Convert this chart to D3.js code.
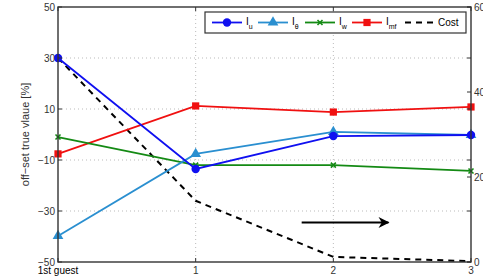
<!DOCTYPE html>
<html>
<head>
<meta charset="utf-8">
<script src="https://cdn.jsdelivr.net/npm/d3@7"></script>
<style>
  body { margin: 0; background: #fff; }
  text { font-family: "Liberation Sans", Arial, sans-serif; }
</style>
</head>
<body>
<div id="chart"></div>
<script>
// data
const steps = [0, 1, 2, 3];
const stepLabels = ["1st guest", "1", "2", "3"];
const Iu = [30, -13.5, -0.6, -0.2];
const Itheta = [-39.8, -7.6, 1.0, -0.2];
const Iw = [-1, -12, -12, -14.3];
const Imf = [-7.6, 11.2, 8.8, 10.8];
const cost = [48, 14.4, 1.2, 0.2];
const leftTicks = [-50, -30, -10, 10, 30, 50];
const rightTicks = [0, 20, 40, 60];
const arrowX = [1.77, 2.4];
const arrowY = -34.5;

const width = 483, height = 278;
const margin = {top: 7, right: 12, bottom: 16, left: 58};
const w = width - margin.left - margin.right;
const h = height - margin.top - margin.bottom;

const svg = d3.select("#chart")
  .append("svg")
  .attr("width", width)
  .attr("height", height);

const g = svg.append("g")
  .attr("transform", `translate(${margin.left},${margin.top})`);

const x = d3.scaleLinear().domain([0, 3]).range([0, w]);
const y = d3.scaleLinear().domain([-50, 50]).range([h, 0]);
const y2 = d3.scaleLinear().domain([0, 60]).range([h, 0]);

// grid
const gridStyle = (sel) => sel.attr("stroke", "#bbb").attr("stroke-width", 1).attr("stroke-dasharray", "1,3");
g.selectAll(".hgrid")
  .data(leftTicks.slice(1, -1))
  .join("line")
  .attr("x1", 0).attr("x2", w)
  .attr("y1", (d) => y(d)).attr("y2", (d) => y(d))
  .call(gridStyle);
g.selectAll(".vgrid")
  .data(steps.slice(1, -1))
  .join("line")
  .attr("x1", (d) => x(d)).attr("x2", (d) => x(d))
  .attr("y1", 0).attr("y2", h)
  .call(gridStyle);

// series
const series = [
  {name: "u", values: Iu, color: "#1010f0", marker: "circle"},
  {name: "θ", values: Itheta, color: "#2a8fd0", marker: "triangle"},
  {name: "w", values: Iw, color: "#148a14", marker: "x"},
  {name: "mf", values: Imf, color: "#f01010", marker: "square"}
];

const line = d3.line().x((d, i) => x(steps[i])).y((d) => y(d));

function drawMarker(sel, type, color) {
  if (type === "circle") {
    sel.append("circle").attr("r", 4.2).attr("fill", color);
  } else if (type === "triangle") {
    sel.append("path").attr("d", d3.symbol(d3.symbolTriangle, 50)()).attr("fill", color);
  } else if (type === "square") {
    sel.append("rect").attr("x", -3.6).attr("y", -3.6).attr("width", 7.2).attr("height", 7.2).attr("fill", color);
  } else {
    sel.append("path").attr("d", "M-2.5,-2.5L2.5,2.5M-2.5,2.5L2.5,-2.5")
      .attr("stroke", color).attr("stroke-width", 1.6);
  }
}

// dashed cost line (right axis)
g.append("path")
  .datum(cost)
  .attr("fill", "none")
  .attr("stroke", "#000")
  .attr("stroke-width", 2)
  .attr("stroke-dasharray", "6,5")
  .attr("d", d3.line().x((d, i) => x(steps[i])).y((d) => y2(d)));

// draw order: mf, w, theta, u
[series[3], series[2], series[1], series[0]].forEach((s) => {
  g.append("path")
    .datum(s.values)
    .attr("fill", "none")
    .attr("stroke", s.color)
    .attr("stroke-width", 1.8)
    .attr("d", line);
  s.values.forEach((v, i) => {
    const m = g.append("g").attr("transform", `translate(${x(steps[i])},${y(v)})`);
    drawMarker(m, s.marker, s.color);
  });
});

// arrow annotation
svg.append("defs").append("marker")
  .attr("id", "ah")
  .attr("viewBox", "0 0 10 10")
  .attr("refX", 9).attr("refY", 5)
  .attr("markerWidth", 18).attr("markerHeight", 11)
  .attr("markerUnits", "userSpaceOnUse")
  .attr("orient", "auto")
  .append("path").attr("d", "M0,0L10,5L0,10L3,5Z").attr("fill", "#000");
g.append("line")
  .attr("x1", x(arrowX[0])).attr("x2", x(arrowX[1]))
  .attr("y1", y(arrowY)).attr("y2", y(arrowY))
  .attr("stroke", "#000").attr("stroke-width", 2)
  .attr("marker-end", "url(#ah)");

// box / axes
g.append("rect")
  .attr("width", w).attr("height", h)
  .attr("fill", "none")
  .attr("stroke", "#333")
  .attr("stroke-width", 1.4);

const tickLen = 4;
// left axis ticks + mirrored on right
leftTicks.forEach((t) => {
  g.append("line").attr("x1", 0).attr("x2", tickLen).attr("y1", y(t)).attr("y2", y(t)).attr("stroke", "#333");
  g.append("line").attr("x1", w).attr("x2", w - tickLen).attr("y1", y(t)).attr("y2", y(t)).attr("stroke", "#333");
  g.append("text")
    .attr("x", -3).attr("y", y(t)).attr("dy", "0.35em")
    .attr("text-anchor", "end")
    .attr("font-size", 10).attr("fill", "#333")
    .text(d3.format("d")(t).replace("-", "\u2212"));
});
rightTicks.forEach((t) => {
  g.append("line").attr("x1", w).attr("x2", w - tickLen).attr("y1", y2(t)).attr("y2", y2(t)).attr("stroke", "#333");
  g.append("text")
    .attr("x", w + 3).attr("y", y2(t)).attr("dy", "0.35em")
    .attr("text-anchor", "start")
    .attr("font-size", 10).attr("fill", "#333")
    .text(t);
});
steps.forEach((s, i) => {
  g.append("line").attr("x1", x(s)).attr("x2", x(s)).attr("y1", h).attr("y2", h - tickLen).attr("stroke", "#333");
  g.append("line").attr("x1", x(s)).attr("x2", x(s)).attr("y1", 0).attr("y2", tickLen).attr("stroke", "#333");
  g.append("text")
    .attr("x", x(s)).attr("y", h + 12)
    .attr("text-anchor", "middle")
    .attr("font-size", 10).attr("fill", i === 0 ? "#000" : "#333")
    .text(stepLabels[i]);
});

// y label
svg.append("text")
  .attr("transform", `translate(29,${margin.top + h / 2}) rotate(-90)`)
  .attr("text-anchor", "middle")
  .attr("font-size", 11).attr("fill", "#333")
  .text("off\u2212set true vlaue [%]");

// legend
const legend = svg.append("g").attr("transform", "translate(205,12)");
legend.append("rect")
  .attr("width", 261).attr("height", 21)
  .attr("fill", "#fff").attr("stroke", "#333").attr("stroke-width", 1.2);
const entries = [
  {s: series[0], x: 7},
  {s: series[1], x: 53},
  {s: series[2], x: 100},
  {s: series[3], x: 147},
  {s: {name: "Cost", color: "#000", marker: "dash"}, x: 200}
];
entries.forEach((e) => {
  const row = legend.append("g").attr("transform", `translate(${e.x},10.5)`);
  const ln = row.append("line").attr("x1", 0).attr("x2", 30).attr("y1", 0).attr("y2", 0)
    .attr("stroke", e.s.color).attr("stroke-width", e.s.marker === "dash" ? 2 : 1.8);
  if (e.s.marker === "dash") {
    ln.attr("stroke-dasharray", "6,5");
    row.append("text").attr("x", 33).attr("y", 3.5).attr("font-size", 10).attr("fill", "#000").text("Cost");
  } else {
    drawMarker(row.append("g").attr("transform", "translate(15,0)"), e.s.marker, e.s.color);
    const t = row.append("text").attr("x", 34).attr("y", 2).attr("font-size", 10).attr("fill", "#000");
    t.append("tspan").text("I");
    t.append("tspan").attr("dy", 4).attr("font-size", 7).text(e.s.name);
  }
});
</script>
</body>
</html>
